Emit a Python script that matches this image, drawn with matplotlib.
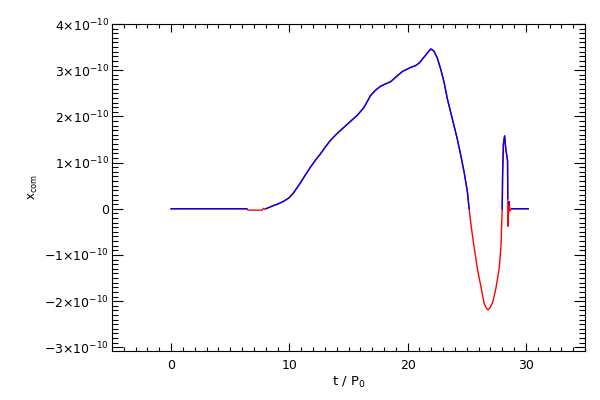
import numpy as np
import matplotlib
matplotlib.use("Agg")
import matplotlib.pyplot as plt
from matplotlib.ticker import FixedLocator, MultipleLocator, FuncFormatter

# centre-of-mass offset versus time
t = [0.0, 1.0, 2.0, 3.0, 4.0, 5.0, 6.0, 6.4, 6.5, 7.0, 7.5, 7.7, 7.8, 7.9, 8.0,
     8.3, 8.67, 9.1, 9.5, 9.94, 10.37, 10.93, 11.35, 11.78, 12.2, 12.63,
     13.05, 13.47, 14.0, 14.6, 15.2, 15.73, 16.3, 16.86, 17.3, 17.7, 18.1,
     18.56, 19.0, 19.55, 20.25, 20.68, 21.0, 21.25, 21.6, 21.95, 22.2, 22.5,
     22.8, 23.08, 23.36, 23.64, 23.92, 24.2, 24.5, 24.78, 25.06, 25.2, 25.4,
     25.6, 25.9, 26.2, 26.47, 26.65, 26.8, 27.0, 27.2, 27.46, 27.74, 27.9,
     27.94, 28.0, 28.03, 28.1, 28.2, 28.3, 28.45, 28.47, 28.5, 28.55, 28.6,
     28.65, 28.7, 28.8, 29.5, 30.2]
x_com = [0.0, 0.0, 0.0, 0.0, 0.0, 0.0, 0.0, 0.0, -0.03, -0.03, -0.03, -0.03,
         0.01, -0.01, 0.0, 0.03, 0.07, 0.11, 0.16, 0.23, 0.35, 0.56, 0.73,
         0.90, 1.05, 1.19, 1.34, 1.48, 1.62, 1.76, 1.90, 2.02, 2.19, 2.45,
         2.57, 2.65, 2.70, 2.75, 2.85, 2.97, 3.06, 3.10, 3.16, 3.24, 3.35,
         3.46, 3.42, 3.27, 3.02, 2.74, 2.38, 2.09, 1.80, 1.51, 1.15, 0.79,
         0.36, 0.0, -0.43, -0.79, -1.30, -1.69, -2.05, -2.15, -2.19, -2.13,
         -2.02, -1.73, -1.30, -0.79, -0.43, 0.0, 0.72, 1.40, 1.58, 1.30, 1.04,
         0.22, -0.38, 0.10, 0.15, -0.05, -0.02, 0.0, 0.0, 0.0]

t = np.array(t)
x_com = np.array(x_com) * 1e-10

# positive part drawn blue over the full red curve
x_pos = np.where(x_com >= 0, x_com, np.nan)

yticks = [-3e-10, -2e-10, -1e-10, 0.0, 1e-10, 2e-10, 3e-10, 4e-10]


def ylab(v, pos):
    m = int(round(v / 1e-10))
    if m == 0:
        return "0"
    return "%s×10$^{-10}$" % (("\u2212%d" % -m) if m < 0 else "%d" % m)


plt.rcParams["font.family"] = "DejaVu Sans"
plt.rcParams["mathtext.fontset"] = "dejavusans"

fig = plt.figure(figsize=(6, 4), dpi=100)
ax = fig.add_axes([0.1867, 0.1225, 0.7883, 0.8175])

ax.plot(t, x_com, color="#ff0000", lw=1.0)
ax.plot(t, x_pos, color="#0000ff", lw=1.0)

ax.set_xlim(-5, 35)
ax.set_ylim(-3.08e-10, 4e-10)

ax.xaxis.set_major_locator(MultipleLocator(10))
ax.xaxis.set_minor_locator(MultipleLocator(1))
ax.yaxis.set_major_locator(FixedLocator(yticks))
ax.yaxis.set_minor_locator(MultipleLocator(1e-11))
ax.yaxis.set_major_formatter(FuncFormatter(ylab))

ax.tick_params(axis="both", which="both", direction="in", top=True,
               right=True, colors="black", labelsize=9, width=0.8)
ax.tick_params(axis="x", which="major", length=6, pad=6)
ax.tick_params(axis="x", which="minor", length=3)
ax.tick_params(axis="y", which="major", length=8, pad=2)
ax.tick_params(axis="y", which="minor", length=4)
for s in ax.spines.values():
    s.set_linewidth(0.8)

ax.set_xlabel(r"t / P$_0$", fontsize=9.5, labelpad=2)
ax.set_ylabel(r"x$_{\rm com}$", fontsize=8.5, labelpad=3)

fig.savefig("out.png", dpi=100)
